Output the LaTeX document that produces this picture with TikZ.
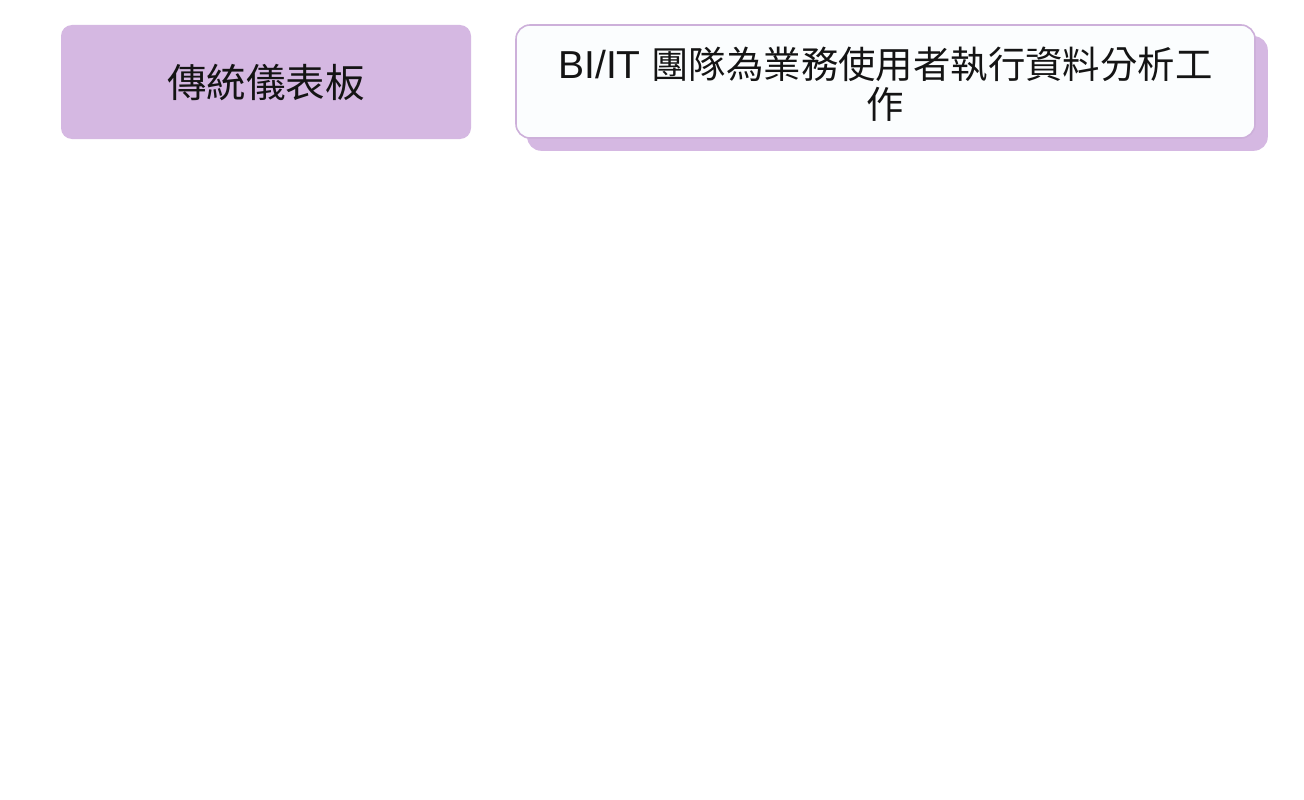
\documentclass[tikz,border=0pt]{standalone}
\usepackage{fontspec}
\setmainfont{Liberation Sans}
\newfontfamily\cjk{Noto Sans CJK TC}
\usetikzlibrary{backgrounds}
\definecolor{lav}{HTML}{D5B8E2}
\definecolor{lavline}{HTML}{CDB0DA}
\definecolor{boxwhite}{HTML}{FBFDFE}
\definecolor{ink}{HTML}{141414}
\tikzset{
  filledbox/.style={fill=lav, rounded corners=11pt, text=ink, align=center, inner sep=0pt},
  outlinebox/.style={fill=boxwhite, draw=lavline, line width=1.6pt, rounded corners=14pt, inner sep=0pt},
  textlabel/.style={text=ink, align=center, inner sep=0pt},
  shadowbox/.style={fill=lav, rounded corners=14pt}
}
\newcommand{\cjkr}[1]{{\cjk\fontsize{37.4}{40}\selectfont #1}}
\begin{document}
\begin{tikzpicture}[x=1pt,y=-1pt]
\useasboundingbox (0,0) rectangle (1304,800);
\node[filledbox, minimum width=410pt, minimum height=114pt, font=\cjk\fontsize{39.5}{46}\selectfont] (left) at (266,82) {傳統儀表板};
\node[outlinebox, minimum width=739pt, minimum height=113pt] (right) at (885.5,81.5) {};
\node[textlabel, font=\fontsize{39}{40}\selectfont] (righttext) at (885.5,84.5) {BI/IT \cjkr{團隊為業務使用者執行資料分析工}\\\cjkr{作}};
\begin{scope}[on background layer]
\fill[white] (0,0) rectangle (1304,800);
\fill[shadowbox] ([shift={(12,12)}]right.north west) rectangle ([shift={(12,12)}]right.south east);
\end{scope}
\end{tikzpicture}
\end{document}
